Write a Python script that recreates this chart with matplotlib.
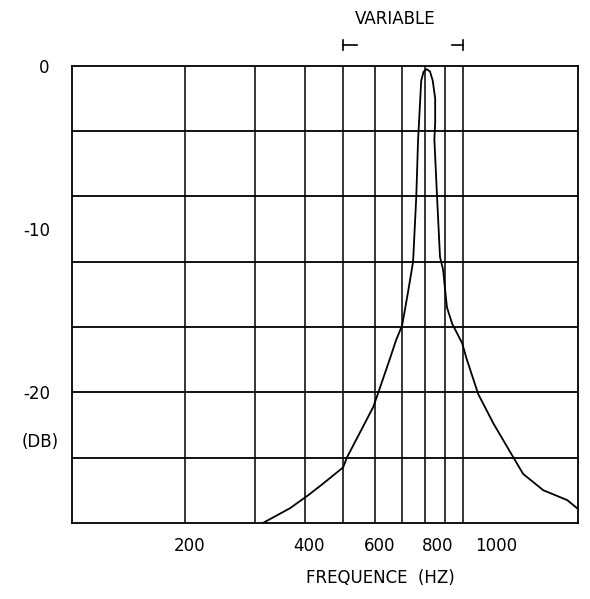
import matplotlib
matplotlib.use("Agg")
import matplotlib.pyplot as plt
from matplotlib.transforms import ScaledTranslation, blended_transform_factory

# ---- data ----
freq_hz = [314, 367, 408, 444, 499, 510, 594, 610, 655, 678, 702, 726, 748, 762,
           770, 774, 784, 795, 810, 825, 838, 850, 850, 846, 858, 874, 890, 900,
           910, 938, 994, 1018, 1090, 1190, 1337, 1414, 1589, 1824, 1932]
level_db = [-28.0, -27.1, -26.3, -25.6, -24.6, -24.0, -20.9, -20.1, -17.9, -16.8,
            -15.9, -13.9, -12.0, -8.0, -4.5, -3.5, -0.9, -0.35, -0.2, -0.35, -0.9,
            -2.0, -3.5, -4.5, -7.7, -11.7, -12.5, -13.7, -14.8, -15.8, -17.0, -17.9,
            -20.1, -21.9, -24.0, -25.0, -26.0, -26.6, -27.1]
vgrid_hz = [200, 300, 400, 500, 600, 700, 800, 900, 1000]
hgrid_db = [-4, -8, -12, -16, -20, -24]
xtick_vals = [200, 400, 600, 800, 1000]
xtick_labels = ["200", "400", "600", "800", "1000"]
xtick_shift_px = [5, 4, 5, 13, 33]
ytick_vals = [0, -10, -20]
ytick_labels = ["0", "-10", "-20"]
variable_range = [500, 1000]

fig = plt.figure(figsize=(5.9, 5.99), dpi=100)
ax = fig.add_axes([0.122, 0.127, 0.858, 0.763])
ax.set_xscale("log")
ax.set_xlim(104, 1944)
ax.set_ylim(-28, 0)

for v in vgrid_hz:
    ax.axvline(v, color="black", lw=1.1, zorder=1)
for h in hgrid_db:
    ax.axhline(h, color="black", lw=1.3, zorder=1)

ax.plot(freq_hz, level_db, color="black", lw=1.3, zorder=3)

for s in ax.spines.values():
    s.set_linewidth(1.3)

ax.set_xticks(xtick_vals)
ax.set_xticklabels(xtick_labels, fontsize=12)
ax.xaxis.set_minor_locator(matplotlib.ticker.NullLocator())
ax.tick_params(axis="x", length=0, pad=10)
for lab, dx in zip(ax.get_xticklabels(), xtick_shift_px):
    lab.set_transform(lab.get_transform() + ScaledTranslation(dx / 100, 0, fig.dpi_scale_trans))

ax.set_yticks(ytick_vals)
ax.set_yticklabels(ytick_labels, fontsize=12)
ax.tick_params(axis="y", length=0, pad=16)

ax.text(-0.063, 0.176, "(DB)", transform=ax.transAxes, fontsize=12,
        ha="center", va="center")

# VARIABLE range marker
tr = blended_transform_factory(ax.transData, ax.transAxes)
lo, hi = variable_range
ax.plot([lo, lo * 1.08], [1.046, 1.046], color="black", lw=1.2, transform=tr, clip_on=False)
ax.plot([lo, lo], [1.035, 1.057], color="black", lw=1.2, transform=tr, clip_on=False)
ax.plot([hi / 1.07, hi], [1.046, 1.046], color="black", lw=1.2, transform=tr, clip_on=False)
ax.plot([hi, hi], [1.035, 1.057], color="black", lw=1.2, transform=tr, clip_on=False)

fig.text(395 / 590, 1 - 19 / 599, "VARIABLE", fontsize=12, ha="center", va="center")
fig.text(380 / 590, 1 - 578 / 599, "FREQUENCE  (HZ)", fontsize=12, ha="center", va="center")

fig.savefig("out.png", dpi=100)
